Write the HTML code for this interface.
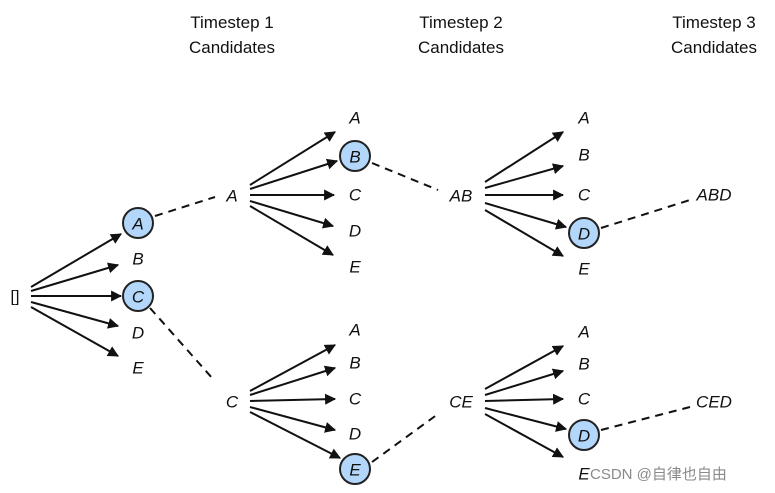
<!DOCTYPE html>
<html><head><meta charset="utf-8"><style>
html,body{margin:0;padding:0;background:#fff;}
svg{display:block;}
text{font-family:"Liberation Sans","Noto Sans CJK SC",sans-serif;}
.l{font-style:italic;font-size:17px;fill:#111;text-anchor:middle;dominant-baseline:central;}
.h{font-size:17px;fill:#111;text-anchor:middle;}
.a{stroke:#111;stroke-width:2;fill:none;marker-end:url(#ar);}
.d{stroke:#111;stroke-width:2;fill:none;stroke-dasharray:8,6;}
.c{fill:#b3d7fa;stroke:#222;stroke-width:2;}
</style></head><body>
<svg width="775" height="493" viewBox="0 0 775 493" xmlns="http://www.w3.org/2000/svg">
<defs><marker id="ar" viewBox="0 0 10 10" refX="9" refY="5" markerWidth="5.5" markerHeight="5.5" orient="auto" markerUnits="strokeWidth"><path d="M0,0 L10,5 L0,10 z" fill="#111"/></marker></defs>
<text class="h" x="232" y="28">Timestep 1</text><text class="h" x="232" y="53">Candidates</text>
<text class="h" x="461" y="28">Timestep 2</text><text class="h" x="461" y="53">Candidates</text>
<text class="h" x="714" y="28">Timestep 3</text><text class="h" x="714" y="53">Candidates</text>
<!-- root -->
<text x="15" y="297" style="font-size:16px;text-anchor:middle;dominant-baseline:central;fill:#111">[]</text>
<path class="a" d="M31,287 L121,234"/><path class="a" d="M31,291 L118,265"/><path class="a" d="M31,296 L121,296"/><path class="a" d="M31,302 L118,326"/><path class="a" d="M31,307 L118,356"/>
<circle class="c" cx="138" cy="223" r="15"/><text class="l" x="138" y="224">A</text>
<text class="l" x="138" y="259">B</text>
<circle class="c" cx="138" cy="296" r="15"/><text class="l" x="138" y="297">C</text>
<text class="l" x="138" y="333">D</text><text class="l" x="138" y="368">E</text>
<path class="d" d="M155,216 L215,197"/><path class="d" d="M150,308 L213,379"/>
<!-- A branch -->
<text class="l" x="232" y="196">A</text>
<path class="a" d="M250,185 L335,132"/><path class="a" d="M250,189 L337,161"/><path class="a" d="M250,195 L334,195"/><path class="a" d="M250,201 L333,226"/><path class="a" d="M250,206 L333,255"/>
<text class="l" x="355" y="118">A</text>
<circle class="c" cx="355" cy="156" r="15"/><text class="l" x="355" y="157">B</text>
<text class="l" x="355" y="195">C</text><text class="l" x="355" y="231">D</text><text class="l" x="355" y="267">E</text>
<path class="d" d="M372,163 L438,190"/>
<text class="l" x="461" y="196">AB</text>
<path class="a" d="M485,182 L563,132"/><path class="a" d="M485,188 L563,166"/><path class="a" d="M485,195 L563,195"/><path class="a" d="M485,203 L566,227"/><path class="a" d="M485,210 L563,256"/>
<text class="l" x="584" y="118">A</text><text class="l" x="584" y="155">B</text><text class="l" x="584" y="195">C</text>
<circle class="c" cx="584" cy="233" r="15"/><text class="l" x="584" y="234">D</text>
<text class="l" x="584" y="269">E</text>
<path class="d" d="M601,228 L690,200"/>
<text class="l" x="714" y="195">ABD</text>
<!-- C branch -->
<text class="l" x="232" y="402">C</text>
<path class="a" d="M250,391 L335,345"/><path class="a" d="M250,395 L335,368"/><path class="a" d="M250,401 L335,399"/><path class="a" d="M250,407 L335,430"/><path class="a" d="M250,412 L340,458"/>
<text class="l" x="355" y="330">A</text><text class="l" x="355" y="363">B</text><text class="l" x="355" y="399">C</text><text class="l" x="355" y="434">D</text>
<circle class="c" cx="355" cy="469" r="15"/><text class="l" x="355" y="470">E</text>
<path class="d" d="M372,462 L438,414"/>
<text class="l" x="461" y="402">CE</text>
<path class="a" d="M485,389 L563,346"/><path class="a" d="M485,395 L563,371"/><path class="a" d="M485,401 L563,399"/><path class="a" d="M485,408 L566,429"/><path class="a" d="M485,414 L563,457"/>
<text class="l" x="584" y="332">A</text><text class="l" x="584" y="364">B</text><text class="l" x="584" y="399">C</text>
<circle class="c" cx="584" cy="435" r="15"/><text class="l" x="584" y="436">D</text>
<text class="l" x="584" y="474">E</text>
<path class="d" d="M601,430 L690,407"/>
<text class="l" x="714" y="402">CED</text>
<text x="590" y="479" style="font-size:15px;fill:#8a8a8a">CSDN @自律也自由</text>
</svg>
</body></html>
